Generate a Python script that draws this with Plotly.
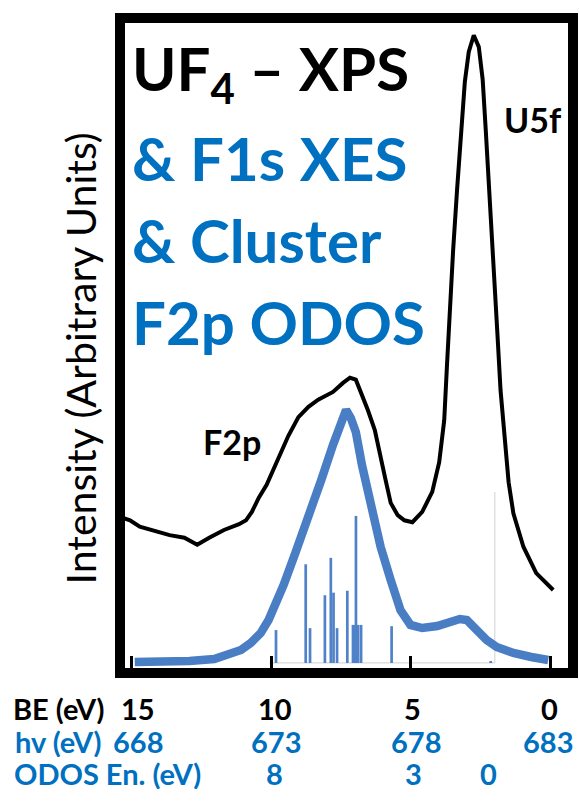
import plotly.graph_objects as go

# ---- XPS (black) : binding energy (eV) vs intensity (arb.) ----
xps_be = [15.36, 15.07, 14.72, 14.18, 13.65, 13.12, 12.66, 12.23, 11.70, 11.16,
          10.91, 10.70, 10.45, 10.17, 9.81, 9.39, 9.03, 8.67, 8.32, 7.79, 7.43,
          7.18, 6.97, 6.79, 6.54, 6.29, 6.08, 5.90, 5.72, 5.47, 5.23, 4.94, 4.59,
          4.23, 3.98, 3.80, 3.70, 3.59, 3.48, 3.34, 3.20, 3.06, 2.92, 2.74, 2.56,
          2.42, 2.31, 2.20, 2.10, 1.99, 1.88, 1.78, 1.64, 1.49, 1.32, 0.96, 0.50, -0.11]
xps_int = [23.3, 22.9, 21.9, 21.2, 20.6, 20.2, 19.1, 20.2, 21.4, 22.3,
           22.9, 24.2, 26.4, 28.4, 31.9, 36.0, 38.9, 40.5, 41.6, 42.8, 44.2,
           45.0, 44.7, 42.8, 40.0, 36.9, 33.0, 29.1, 25.6, 23.7, 22.9, 22.6, 24.2,
           27.3, 31.9, 38.4, 47.0, 56.3, 64.8, 74.1, 83.4, 90.9, 95.5, 98.1, 96.3,
           91.2, 83.4, 75.7, 67.6, 58.6, 50.9, 43.1, 35.3, 28.8, 24.0, 18.8, 14.7, 12.1]

# ---- F1s XES (blue) on the same BE scale ----
xes_be = [14.90, 14.01, 12.94, 12.05, 11.52, 11.09, 10.74, 10.38, 10.10, 9.81,
          9.56, 9.14, 8.67, 8.21, 7.79, 7.50, 7.32, 7.15, 6.97, 6.75, 6.43, 6.08,
          5.72, 5.37, 5.01, 4.59, 4.05, 3.52, 3.24, 2.99, 2.63, 2.28, 1.92, 1.32,
          0.68, 0.07]
xes_int = [0.93, 0.93, 1.09, 1.40, 2.02, 2.79, 3.88, 5.43, 7.44, 10.08,
           12.87, 17.83, 23.26, 29.15, 34.57, 38.14, 40.00, 38.76, 36.59, 31.47,
           25.27, 18.76, 13.64, 8.99, 6.67, 6.20, 6.51, 7.13, 7.60, 7.44, 5.89,
           4.34, 3.26, 2.33, 1.71, 1.24]

# ---- Cluster F2p ODOS sticks : ODOS energy (eV) vs weight ----
odos_en = [7.95, 6.85, 6.69, 6.14, 5.92, 5.82, 5.69, 5.31, 4.99,
           5.10, 5.02, 4.91, 4.80, 3.67, 0.0]
odos_w = [5.1, 15.3, 5.4, 10.5, 16.3, 10.9, 5.4, 11.2, 22.8,
          5.9, 5.9, 5.9, 5.9, 5.7, 0.3]

# ---- tick labels ----
be_ticks = [15, 10, 5, 0]
be_labels = ["15", "10", "5", "0"]
hv_labels = ["668", "673", "678", "683"]
odos_ticks = [8, 3, 0]
odos_labels = ["8", "3", "0"]

BLUE_TXT = "#0070C0"
BLUE_CURVE = "#4a7ec4"
BLUE_BAR = "#4f82c8"
FONT = "Lato"

fig = go.Figure()

fig.add_trace(go.Bar(x=odos_en, y=odos_w, width=0.1, xaxis="x2", yaxis="y2",
                     marker=dict(color=BLUE_BAR, line=dict(width=0)),
                     showlegend=False))
fig.add_trace(go.Scatter(x=xes_be, y=xes_int, mode="lines",
                         line=dict(color=BLUE_CURVE, width=8.5),
                         showlegend=False))
fig.add_trace(go.Scatter(x=xps_be, y=xps_int, mode="lines",
                         line=dict(color="black", width=4),
                         showlegend=False))

# faint axes of the embedded ODOS stick chart
fig.add_shape(type="line", xref="x2", yref="y2", x0=8.2, x1=-0.15, y0=0, y1=0,
              line=dict(color="#d9d9d9", width=1.2), layer="below")
fig.add_shape(type="line", xref="x2", yref="y2", x0=-0.15, x1=-0.15, y0=0, y1=26.5,
              line=dict(color="#d9d9d9", width=1.2), layer="below")

PW = 447.0  # plot-area width in px
ann = []
title_lines = [("UF<sub>4</sub> – XPS", "black", 0.924),
               ("&amp; F1s XES", BLUE_TXT, 0.791),
               ("&amp; Cluster", BLUE_TXT, 0.664),
               ("F2p ODOS", BLUE_TXT, 0.536)]
for txt, col, yy in title_lines:
    ann.append(dict(text="<b>" + txt + "</b>", x=5 / PW, y=yy, xref="paper", yref="paper",
                    xanchor="left", yanchor="middle", showarrow=False,
                    font=dict(family=FONT, size=60, color=col)))

# peak labels (positions measured in pixels, converted to data/paper coords)
ann.append(dict(text="<b>U5f</b>", x=(554 - 537) / 28.13, xref="x",
                y=(668 - 120) / 645, yref="paper", xanchor="center", yanchor="middle",
                showarrow=False, font=dict(family=FONT, size=34, color="black")))
ann.append(dict(text="<b>F2p</b>", x=(554 - 233) / 28.13, xref="x",
                y=(668 - 441) / 645, yref="paper", xanchor="center", yanchor="middle",
                showarrow=False, font=dict(family=FONT, size=34, color="black")))

ann.append(dict(text="Intensity (Arbitrary Units)", textangle=-90,
                x=(80 - 125) / PW, y=(668 - 358) / 645, xref="paper", yref="paper",
                xanchor="center", yanchor="middle",
                showarrow=False, font=dict(family=FONT, size=41, color="black")))

ROW_H = 32
row_y = {"be": (668 - 708) / 645, "hv": (668 - 741) / 645, "od": (668 - 773) / 645}
ann.append(dict(text="<b>BE (eV)</b>", x=(10 - 125) / PW, y=row_y["be"], xref="paper",
                yref="paper", xanchor="left", yanchor="middle", showarrow=False, height=ROW_H,
                font=dict(family=FONT, size=29, color="black")))
ann.append(dict(text="<b>hv (eV)</b>", x=(12 - 125) / PW, y=row_y["hv"], xref="paper",
                yref="paper", xanchor="left", yanchor="middle", showarrow=False, height=ROW_H,
                font=dict(family=FONT, size=29, color=BLUE_TXT)))
ann.append(dict(text="<b>ODOS En. (eV)</b>", x=(11 - 125) / PW, y=row_y["od"], xref="paper",
                yref="paper", xanchor="left", yanchor="middle", showarrow=False, height=ROW_H,
                font=dict(family=FONT, size=29, color=BLUE_TXT)))

be_shift = [6, 4, 2, -1]
hv_shift = [6, 5, 5, -2]
for v, lab, s in zip(be_ticks, be_labels, be_shift):
    ann.append(dict(text="<b>" + lab + "</b>", x=v, xref="x", y=row_y["be"], yref="paper",
                    xanchor="center", yanchor="middle", xshift=s, showarrow=False, height=ROW_H,
                    font=dict(family=FONT, size=29, color="black")))
for v, lab, s in zip(be_ticks, hv_labels, hv_shift):
    ann.append(dict(text="<b>" + lab + "</b>", x=v, xref="x", y=row_y["hv"], yref="paper",
                    xanchor="center", yanchor="middle", xshift=s, showarrow=False, height=ROW_H,
                    font=dict(family=FONT, size=29, color=BLUE_TXT)))
od_shift = [0, 4, -2]
for v, lab, s in zip(odos_ticks, odos_labels, od_shift):
    ann.append(dict(text="<b>" + lab + "</b>", x=v, xref="x2", y=row_y["od"], yref="paper",
                    xanchor="center", yanchor="middle", xshift=s, showarrow=False, height=ROW_H,
                    font=dict(family=FONT, size=29, color=BLUE_TXT)))

fig.update_layout(
    width=590, height=804, autosize=False,
    margin=dict(l=125, r=18, t=23, b=136, pad=0),
    paper_bgcolor="white", plot_bgcolor="white",
    barmode="overlay",
    annotations=ann,
    xaxis=dict(range=[15.25, -0.64], showline=True, linewidth=10, linecolor="black",
               mirror=True, ticks="inside", tickvals=be_ticks, ticklen=12, tickwidth=2.5,
               tickcolor="black", showticklabels=False, showgrid=False, zeroline=False),
    yaxis=dict(range=[0, 100], showline=True, linewidth=10, linecolor="black",
               mirror=True, ticks="", showticklabels=False, showgrid=False, zeroline=False),
    xaxis2=dict(range=[13.54, -2.86], overlaying="x", visible=False),
    yaxis2=dict(range=[-0.78, 99.22], overlaying="y", visible=False),
)

fig.write_html("out.html", config={"responsive": False})
